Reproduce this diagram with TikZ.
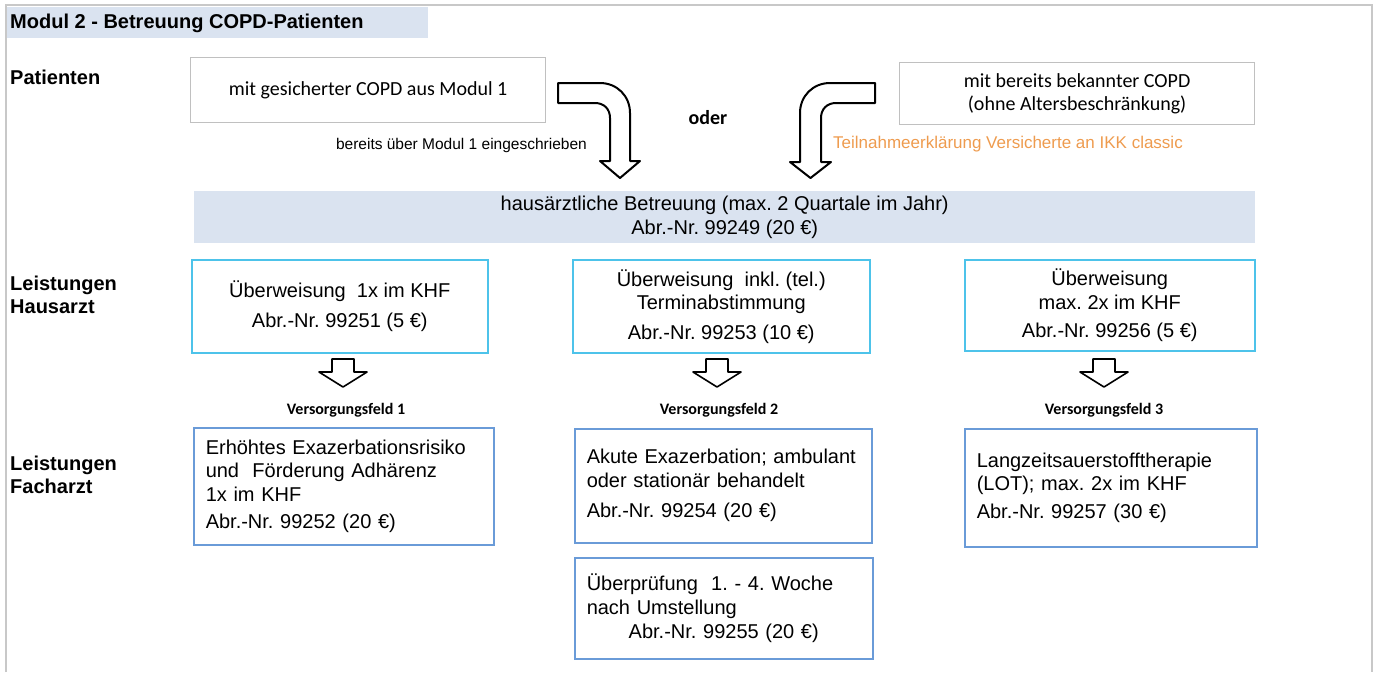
\documentclass[tikz,border=0pt]{standalone}
\usepackage{fontspec}
\setmainfont{Liberation Sans}
\newfontfamily\carlito{Carlito}
\usepackage{xcolor}
\definecolor{bandblue}{RGB}{218,227,240}
\definecolor{hcyan}{RGB}{77,195,234}
\definecolor{fblue}{RGB}{106,155,216}
\definecolor{pgray}{RGB}{192,192,192}
\definecolor{framegray}{RGB}{200,200,200}
\definecolor{ikkorange}{RGB}{238,155,78}
\newcommand{\boxfont}{\fontsize{20}{23.5}\selectfont}
\newcommand{\smallfont}{\fontsize{15.5}{18}\selectfont}
\frenchspacing

\begin{document}
\begin{tikzpicture}[x=1pt, y=-1pt,
  rowlabel/.style={anchor=west, align=left, inner sep=0pt, font=\boxfont\bfseries},
  pbox/.style={draw=pgray, line width=1.2pt, anchor=north west, align=center, font=\carlito\boxfont},
  hbox/.style={draw=hcyan, line width=1.5pt, anchor=north west, align=center, font=\boxfont},
  fbox/.style={draw=fblue, line width=1.5pt, anchor=north west, align=left, inner xsep=12pt, font=\boxfont},
  feld/.style={font=\carlito\fontsize{16}{18}\selectfont\bfseries},
  blockarrow/.style={draw=black, line width=2pt, fill=white, line join=round}]
  \useasboundingbox (0,0) rectangle (1378,672);
  \draw[framegray, line width=2pt] (6,672) -- (6,5) -- (1372,5) -- (1372,672);
  \fill[bandblue] (7,7) rectangle (428,38);
  \node[rowlabel] (titel) at (10,23) {Modul 2 - Betreuung COPD-Patienten};
  \node[rowlabel] (patienten) at (10,77) {Patienten};
  \node[rowlabel] (lhaus) at (10,295) {Leistungen\\Hausarzt};
  \node[rowlabel] (lfach) at (10,475) {Leistungen\\Facharzt};

  % Patienten
  \node[pbox, minimum width=355pt, minimum height=65pt] (gesichert) at (190,57) {mit gesicherter COPD aus Modul 1};
  \node[pbox, minimum width=355pt, minimum height=62pt] (bekannt) at (899,62) {mit bereits bekannter COPD\\(ohne Altersbeschränkung)};
  \node[font=\carlito\boxfont\bfseries] (oder) at (708,118) {oder};
  \node[anchor=east, font=\smallfont, inner sep=0pt] (eingeschrieben) at (587,145) {bereits über Modul 1 eingeschrieben};
  \node[anchor=east, font=\fontsize{17}{20}\selectfont, text=ikkorange, inner sep=0pt] (erklaerung) at (1183,144) {Teilnahmeerklärung Versicherte an IKK classic};
  \draw[blockarrow] (558,83) -- (600,83) .. controls (617,83) and (630,96) .. (630,113) -- (630,161) -- (640,161) -- (620,178) -- (600,161) -- (610,161) -- (610,118) .. controls (610,109) and (604,103) .. (595,103) -- (558,103) -- cycle;
  \draw[blockarrow] (875,83) -- (830,83) .. controls (813,83) and (800,96) .. (800,113) -- (800,162) -- (790,162) -- (810.5,178) -- (831,162) -- (821,162) -- (821,118) .. controls (821,109) and (827,103) .. (836,103) -- (875,103) -- cycle;

  \node[fill=bandblue, anchor=north west, minimum width=1061pt, minimum height=52pt, align=center, font=\boxfont] (betreuung) at (194,191) {hausärztliche Betreuung (max. 2 Quartale im Jahr)\\Abr.-Nr. 99249 (20 €)};

  % Leistungen Hausarzt
  \node[hbox, minimum width=296pt, minimum height=93pt] (ueb1) at (191,259) {Überweisung\ \ 1x im KHF\\[7pt]Abr.-Nr. 99251 (5 €)};
  \node[hbox, minimum width=297pt, minimum height=93pt] (ueb2) at (572,259) {Überweisung\ \ inkl. (tel.)\\Terminabstimmung\\[6pt]Abr.-Nr. 99253 (10 €)};
  \node[hbox, minimum width=290pt, minimum height=91pt] (ueb3) at (964,259) {Überweisung\\max. 2x im KHF\\[5pt]Abr.-Nr. 99256 (5 €)};
  \foreach \cx in {343, 717, 1104}
    \draw[blockarrow, line width=1.6pt] (\cx-11,359) -- (\cx+11,359) -- (\cx+11,372) -- (\cx+24,372) -- (\cx,387) -- (\cx-24,372) -- (\cx-11,372) -- cycle;
  \node[feld] (vf1) at (346,410) {Versorgungsfeld 1};
  \node[feld] (vf2) at (719,410) {Versorgungsfeld 2};
  \node[feld] (vf3) at (1104,410) {Versorgungsfeld 3};

  % Leistungen Facharzt
  \node[fbox, minimum width=300pt, minimum height=117pt, text width=276pt] (risiko) at (193,427) {Erhöhtes Exazerbationsrisiko\\und\ \ Förderung Adhärenz\\1x im KHF\\[4pt]Abr.-Nr. 99252 (20 €)};
  \node[fbox, minimum width=297pt, minimum height=114pt, text width=273pt] (akut) at (574,428) {Akute Exazerbation; ambulant\\oder stationär behandelt\\[7pt]Abr.-Nr. 99254 (20 €)};
  \node[fbox, minimum width=298pt, minimum height=101pt, text width=274pt] (umstellung) at (574,557) {Überprüfung\ \ 1. - 4. Woche\\nach Umstellung\\[1pt]\makebox[\linewidth]{Abr.-Nr. 99255 (20 €)}};
  \node[fbox, minimum width=292pt, minimum height=118pt, text width=268pt] (lot) at (964,428) {Langzeitsauerstofftherapie\\(LOT); max. 2x im KHF\\[4pt]Abr.-Nr. 99257 (30 €)};
\end{tikzpicture}
\end{document}
